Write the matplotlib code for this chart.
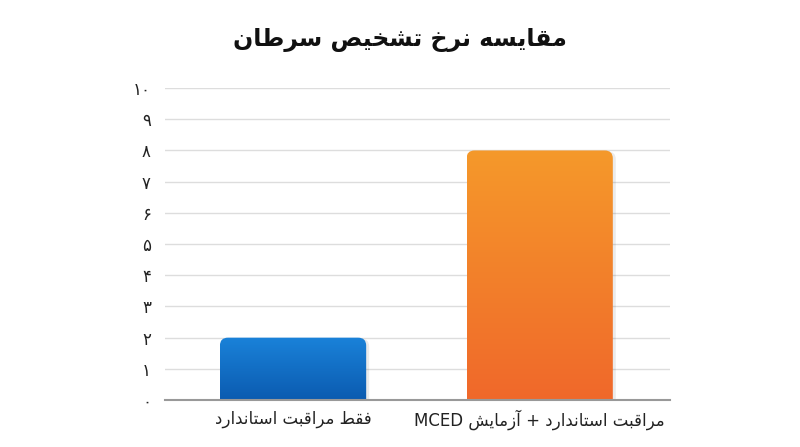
import matplotlib
matplotlib.use("Agg")
import matplotlib.pyplot as plt
import numpy as np
from matplotlib.patches import FancyBboxPatch
from matplotlib.colors import LinearSegmentedColormap

# data
title = "مقایسه نرخ تشخیص سرطان"
categories = ["فقط مراقبت استاندارد", "مراقبت استاندارد + آزمایش MCED"]
values = [2, 8]
y_ticks = [0, 1, 2, 3, 4, 5, 6, 7, 8, 9, 10]
bar_top_colors = ["#1a82d9", "#f5992b"]
bar_bottom_colors = ["#0b5bb0", "#f0682a"]

# simple arabic/persian shaping: letter -> (isol, final, init, medial)
FORMS = {
    "ا": ("\uFE8D", "\uFE8E"), "آ": ("\uFE81", "\uFE82"),
    "د": ("\uFEA9", "\uFEAA"), "ر": ("\uFEAD", "\uFEAE"),
    "ز": ("\uFEAF", "\uFEB0"),
    "ب": ("\uFE8F", "\uFE90", "\uFE91", "\uFE92"),
    "ت": ("\uFE95", "\uFE96", "\uFE97", "\uFE98"),
    "خ": ("\uFEA5", "\uFEA6", "\uFEA7", "\uFEA8"),
    "س": ("\uFEB1", "\uFEB2", "\uFEB3", "\uFEB4"),
    "ش": ("\uFEB5", "\uFEB6", "\uFEB7", "\uFEB8"),
    "ص": ("\uFEB9", "\uFEBA", "\uFEBB", "\uFEBC"),
    "ط": ("\uFEC1", "\uFEC2", "\uFEC3", "\uFEC4"),
    "ف": ("\uFED1", "\uFED2", "\uFED3", "\uFED4"),
    "ق": ("\uFED5", "\uFED6", "\uFED7", "\uFED8"),
    "م": ("\uFEE1", "\uFEE2", "\uFEE3", "\uFEE4"),
    "ن": ("\uFEE5", "\uFEE6", "\uFEE7", "\uFEE8"),
    "ه": ("\uFEE9", "\uFEEA", "\uFEEB", "\uFEEC"),
    "ی": ("\uFBFC", "\uFBFD", "\uFEF3", "\uFEF4"),
}


def shape_word(w):
    out = []
    for i, c in enumerate(w):
        if c not in FORMS:
            out.append(c)
            continue
        prev = w[i - 1] if i > 0 else None
        nxt = w[i + 1] if i + 1 < len(w) else None
        jp = prev in FORMS and len(FORMS[prev]) == 4
        jn = len(FORMS[c]) == 4 and nxt in FORMS
        f = FORMS[c]
        if jp and jn:
            out.append(f[3])
        elif jp:
            out.append(f[1])
        elif jn:
            out.append(f[2])
        else:
            out.append(f[0])
    return "".join(out)


def rtl(text):
    words = text.split(" ")
    res = []
    for w in reversed(words):
        if any(c in FORMS for c in w):
            res.append(shape_word(w)[::-1])
        else:
            res.append(w)
    return " ".join(res)


def fa_digits(n):
    return "".join(chr(0x06F0 + int(d)) for d in str(n))


plt.rcParams['font.family'] = ['DejaVu Sans']

XLIM = (-0.52, 1.53)

fig = plt.figure(figsize=(8, 4.47), dpi=100)
ax = fig.add_axes([0.206, 0.105, 0.632, 0.698])

x = np.arange(len(categories))
bars = ax.bar(x, values, width=0.593, color="none", zorder=3)

ax.set_xlim(*XLIM)
ax.set_ylim(0, 10)
ax.set_yticks(y_ticks)
ax.set_yticklabels([fa_digits(t) for t in y_ticks], fontsize=12, color="#222222")
ax.set_xticks(x)
ax.set_xticklabels([rtl(c) for c in categories], fontsize=12, color="#222222")
ax.tick_params(length=0, pad=10)
ax.tick_params(axis="x", pad=7)
ax.grid(axis="y", color="#dddddd", lw=1, zorder=0)
ax.set_axisbelow(True)
for s in ax.spines.values():
    s.set_visible(False)
ax.axhline(0, color="#999999", lw=1.5, zorder=5, clip_on=False)

fig.text(0.5, 0.91, rtl(title), ha="center", va="center",
         fontsize=17, fontweight="bold", color="#111111")

# pixel->data aspect for round corners
fig.canvas.draw()
bb = ax.get_window_extent()
xpp = (XLIM[1] - XLIM[0]) / bb.width
ypp = 10.0 / bb.height
asp = ypp / xpp
rad = 8 * xpp

for i, b in enumerate(bars):
    bx, bw, bh = b.get_x(), b.get_width(), b.get_height()
    # soft shadow
    sh = FancyBboxPatch((bx + 3 * xpp, -1), bw, bh + 1 - 1 * ypp,
                        boxstyle="round,pad=0,rounding_size=%f" % rad,
                        mutation_aspect=asp, fc="#000000", ec="none",
                        alpha=0.08, zorder=2)
    ax.add_patch(sh)
    p = FancyBboxPatch((bx, -1), bw, bh + 1,
                       boxstyle="round,pad=0,rounding_size=%f" % rad,
                       mutation_aspect=asp, fc="none", ec="none", zorder=3)
    ax.add_patch(p)
    cmap = LinearSegmentedColormap.from_list("g%d" % i, [bar_bottom_colors[i], bar_top_colors[i]])
    grad = np.linspace(0, 1, 256).reshape(-1, 1)
    im = ax.imshow(grad, extent=(bx, bx + bw, 0, bh), origin="lower",
                   cmap=cmap, aspect="auto", zorder=3)
    im.set_clip_path(p)

ax.set_xlim(*XLIM)
ax.set_ylim(0, 10)

fig.savefig("out.png", dpi=100)
